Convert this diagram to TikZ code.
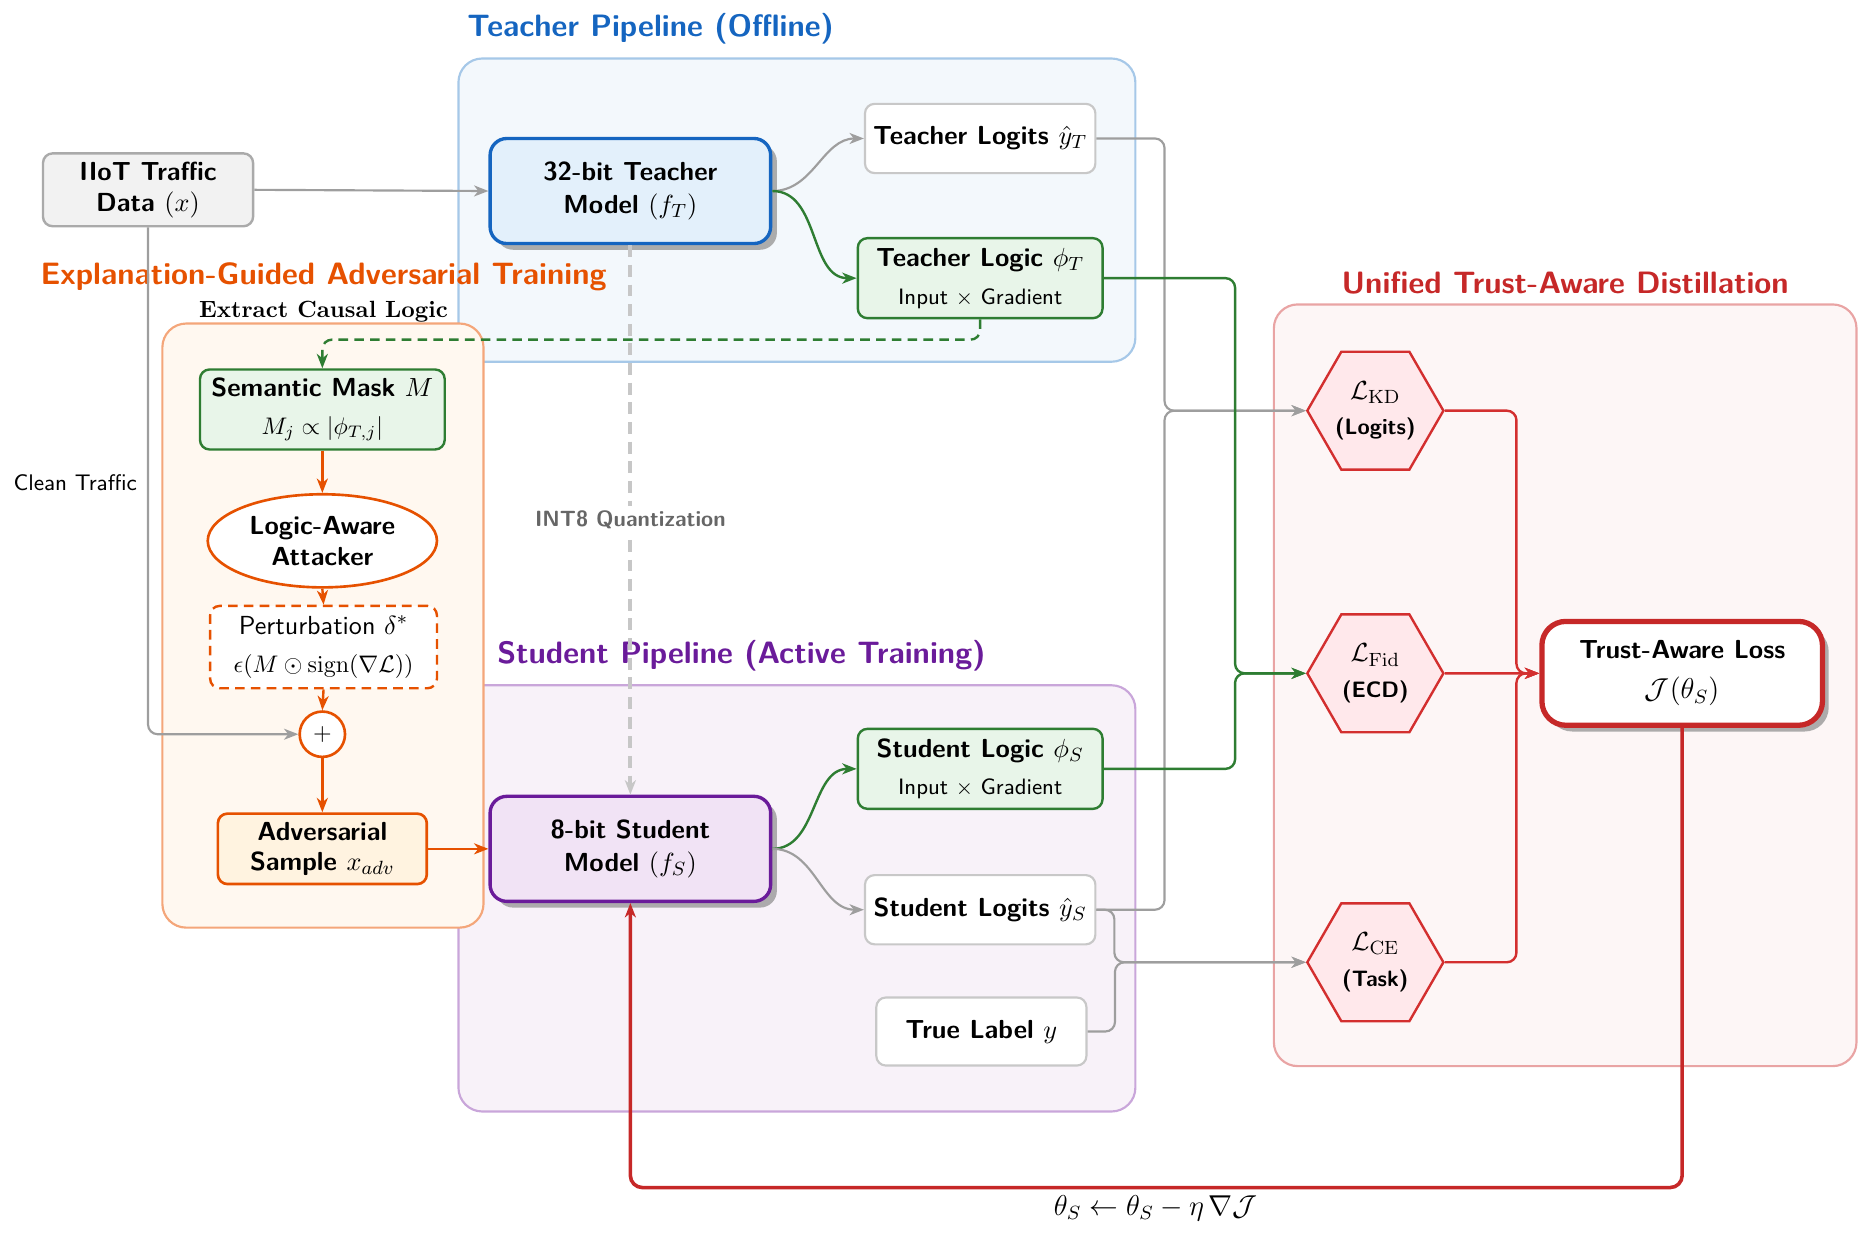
\documentclass[tikz,border=0pt]{standalone}
\usepackage{amsmath,amssymb}
\usetikzlibrary{arrows.meta,shapes.geometric,shadows,calc}
\definecolor{tblue}{HTML}{1565C0}
\definecolor{tbluefill}{HTML}{E3F0FB}
\definecolor{tcont}{HTML}{F3F8FC}
\definecolor{tcontb}{HTML}{A6C8E8}
\definecolor{spurple}{HTML}{6A1B9A}
\definecolor{spurfill}{HTML}{F1E3F5}
\definecolor{scont}{HTML}{F8F2F9}
\definecolor{scontb}{HTML}{C9A6DA}
\definecolor{lgreen}{HTML}{2E7D32}
\definecolor{lgreenfill}{HTML}{E8F5E9}
\definecolor{aorange}{HTML}{E65100}
\definecolor{aorfill}{HTML}{FFF3E0}
\definecolor{acont}{HTML}{FFF8F0}
\definecolor{acontb}{HTML}{F4A67A}
\definecolor{ured}{HTML}{C62828}
\definecolor{uhex}{HTML}{D32F2F}
\definecolor{uhexfill}{HTML}{FFE8EB}
\definecolor{ucont}{HTML}{FDF6F6}
\definecolor{ucontb}{HTML}{E9A4A4}
\definecolor{lgray}{HTML}{9E9E9E}
\definecolor{boxgray}{HTML}{C8C8C8}
\definecolor{iiotfill}{HTML}{F2F2F2}
\definecolor{iiotb}{HTML}{AAAAAA}
\def\u{0.01751cm}
\newcommand{\mynormal}{\fontsize{10.9}{12.8}\selectfont}
\newcommand{\mysmall}{\fontsize{9.3}{11}\selectfont}
\newcommand{\mymath}{\fontsize{10.2}{12}\selectfont}
\newcommand{\mytitle}{\fontsize{12.9}{15}\selectfont}
\begin{document}
\begin{tikzpicture}[x=0.01751cm,y=-0.01751cm,
  tip/.style={-{Stealth[length=6pt,width=4.6pt,inset=1.8pt]}},
  base/.style={align=center,font=\sffamily\bfseries\mynormal,inner sep=2pt},
  cont/.style={rounded corners=0.35cm,line width=0.9pt},
  ctitle/.style={font=\sffamily\bfseries\mytitle},
  plainbox/.style={base,rectangle,rounded corners=4pt,draw=boxgray,fill=white,line width=0.9pt},
  greenbox/.style={base,rectangle,rounded corners=4pt,draw=lgreen,fill=lgreenfill,line width=1pt,minimum width=205*\u,minimum height=67*\u},
  modelbox/.style={base,rectangle,rounded corners=7pt,line width=1.4pt,minimum width=235*\u,minimum height=88*\u,
     font=\sffamily\bfseries\fontsize{10.9}{14}\selectfont,
     drop shadow={shadow xshift=2.6pt,shadow yshift=-2.6pt,fill=black!40,opacity=0.8}},
  hexnode/.style={base,regular polygon,regular polygon sides=6,draw=uhex,fill=uhexfill,line width=1pt,inner sep=0pt,minimum size=114*\u},
  gline/.style={tip,draw=lgray,line width=0.9pt,rounded corners=4pt},
  grline/.style={tip,draw=lgreen,line width=1pt,rounded corners=4pt},
  oline/.style={tip,draw=aorange,line width=1pt},
  rline/.style={tip,draw=uhex,line width=1pt,rounded corners=4pt},
  longdash/.style={dash pattern=on 4pt off 2.6pt}
]
\useasboundingbox (0,0) rectangle (1568,1035);

% containers
\draw[cont,draw=tcontb,fill=tcont] (384,49) rectangle (951,303);
\draw[cont,draw=scontb,fill=scont] (384,574) rectangle (951,931);
\draw[cont,draw=ucontb,fill=ucont] (1067,255) rectangle (1555,893);
\draw[cont,draw=acontb,fill=acont] (136,271) rectangle (405,777);

% titles
\node[ctitle,text=tblue] (ttitle) at (545,24) {Teacher Pipeline (Offline)};
\node[ctitle,text=spurple] (stitle) at (621,549) {Student Pipeline (Active Training)};
\node[ctitle,text=ured] (utitle) at (1311,237) {Unified Trust-Aware Distillation};
\node[ctitle,text=aorange] (atitle) at (271,232) {Explanation-Guided Adversarial Training};
\node[font=\bfseries\fontsize{9.8}{11}\selectfont] (extract) at (271,261) {Extract Causal Logic};
\node[font=\sffamily\fontsize{9.4}{11}\selectfont] (clean) at (63,404) {Clean Traffic};

% nodes
\node[base,rectangle,rounded corners=4pt,draw=iiotb,fill=iiotfill,line width=1pt,minimum width=176*\u,minimum height=61*\u] (iiot) at (124,159) {IIoT Traffic\\Data $(x)$};
\node[modelbox,draw=tblue,fill=tbluefill] (tmodel) at (528,160) {32-bit Teacher\\Model $(f_T)$};
\node[plainbox,minimum width=193*\u,minimum height=58*\u] (tlog) at (821,116) {Teacher Logits $\hat{y}_T$};
\node[greenbox] (tlogic) at (821,233) {Teacher Logic $\phi_T$\\[3pt]{\mysmall\mdseries Input $\times$ Gradient}};

\node[greenbox] (smask) at (270,343) {Semantic Mask $M$\\[3pt]{\mymath $M_j \propto |\phi_{T,j}|$}};
\node[base,ellipse,draw=aorange,fill=white,line width=1.1pt,minimum width=192*\u,minimum height=78*\u,inner sep=0pt] (attack) at (270,453) {Logic-Aware\\Attacker};
\node[base,rectangle,rounded corners=4pt,draw=aorange,longdash,fill=white,line width=1pt,minimum width=190*\u,minimum height=69*\u,font=\sffamily\mynormal] (pert) at (271,542) {Perturbation $\delta^*$\\[3pt]{\mymath $\epsilon(M \odot \mathrm{sign}(\nabla\mathcal{L}))$}};
\node[circle,draw=aorange,fill=white,line width=1.1pt,minimum size=38*\u,inner sep=0pt] (plus) at (270,615) {$+$};
\node[base,rectangle,rounded corners=4pt,draw=aorange,fill=aorfill,line width=1.1pt,minimum width=175*\u,minimum height=59*\u] (adv) at (270,711) {Adversarial\\Sample $x_{adv}$};

\node[modelbox,draw=spurple,fill=spurfill] (smodel) at (528,711) {8-bit Student\\Model $(f_S)$};
\node[greenbox] (slogic) at (821,644) {Student Logic $\phi_S$\\[3pt]{\mysmall\mdseries Input $\times$ Gradient}};
\node[plainbox,minimum width=193*\u,minimum height=58*\u] (slog) at (821,762) {Student Logits $\hat{y}_S$};
\node[plainbox,minimum width=176*\u,minimum height=57*\u] (tlabel) at (822,864) {True Label $y$};

\node[hexnode] (lkd) at (1152,344) {$\mathcal{L}_{\mathrm{KD}}$\\[2pt]{\mysmall (Logits)}};
\node[hexnode] (lfid) at (1152,564) {$\mathcal{L}_{\mathrm{Fid}}$\\[2pt]{\mysmall (ECD)}};
\node[hexnode] (lce) at (1152,806) {$\mathcal{L}_{\mathrm{CE}}$\\[2pt]{\mysmall (Task)}};
\node[base,rectangle,rounded corners=10pt,draw=ured,fill=white,line width=2.2pt,minimum width=235*\u,minimum height=87*\u,
  drop shadow={shadow xshift=2.6pt,shadow yshift=-2.6pt,fill=black!40,opacity=0.8}] (trust) at (1409,564) {Trust-Aware Loss\\[4pt]{\large $\mathcal{J}(\theta_S)$}};

% connectors
\draw[gline] (iiot.east) -- (tmodel.west);
\draw[gline] (tmodel.east) to[out=0,in=180] (tlog.west);
\draw[grline] (tmodel.east) to[out=0,in=180] (tlogic.west);
\draw[gline] (tlog.east) -- ++(57,0) |- (lkd.west);
\draw[gline] (slog.east) -- ++(57,0) |- (lkd.west);
\draw[grline] (tlogic.east) -- ++(110,0) |- (lfid.west);
\draw[grline] (slogic.east) -- ++(110,0) |- (lfid.west);
\draw[gline] (slog.east) -- ++(15,0) |- (lce.west);
\draw[gline] (tlabel.east) -- ++(23,0) |- (lce.west);
\draw[rline] (lkd.east) -- ++(60,0) |- (trust.west);
\draw[rline] (lfid.east) -- (trust.west);
\draw[rline] (lce.east) -- ++(60,0) |- (trust.west);
\draw[tip,draw=ured,line width=1.5pt,rounded corners=5pt] (trust.south) -- ++(0,385) -| (smodel.south);
\node[font=\large] (upd) at (968,1012) {$\theta_S \leftarrow \theta_S - \eta\,\nabla\mathcal{J}$};
\draw[gline] (iiot.south) |- (plus.west);
\draw[grline,longdash] (tlogic.south) -- ++(0,17) -| (smask.north);
\draw[oline] (smask.south) -- (attack.north);
\draw[oline] (attack.south) -- (pert.north);
\draw[oline] (pert.south) -- (plus.north);
\draw[oline] (plus.south) -- (adv.north);
\draw[oline] (adv.east) -- (smodel.west);
\draw[grline] (smodel.east) to[out=0,in=180] (slogic.west);
\draw[gline] (smodel.east) to[out=0,in=180] (slog.west);
\draw[tip,draw=black!22,line width=1.7pt,dash pattern=on 5pt off 3.2pt] (tmodel.south) -- (smodel.north)
  node[midway,fill=white,text=black!60,font=\sffamily\bfseries\fontsize{9.2}{11}\selectfont,inner sep=2pt] (int8) {INT8 Quantization};
\end{tikzpicture}
\end{document}
